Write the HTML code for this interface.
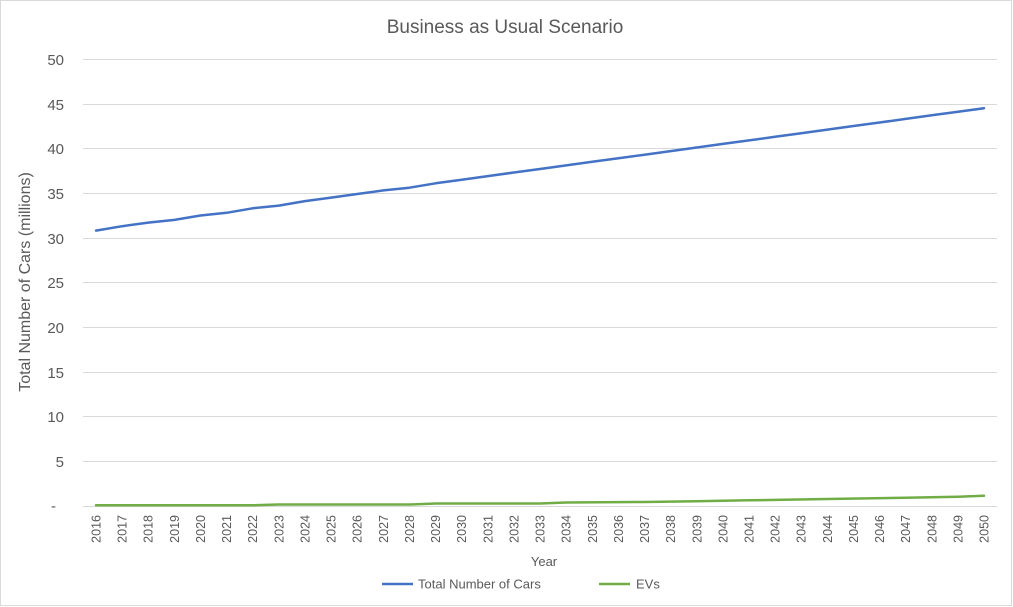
<!DOCTYPE html>
<html><head><meta charset="utf-8"><style>html,body{margin:0;padding:0;background:#fff}svg{display:block}</style></head>
<body>
<svg width="1013" height="607" xmlns="http://www.w3.org/2000/svg" font-family="Liberation Sans, sans-serif">
<rect x="0.5" y="0.5" width="1011" height="605" fill="#fff" stroke="#d9d9d9"/>
<text x="505" y="33" text-anchor="middle" font-size="19" fill="#595959">Business as Usual Scenario</text>
<g stroke="#d9d9d9" stroke-width="1">
<line x1="83" x2="997" y1="59.5" y2="59.5"/><line x1="83" x2="997" y1="104.5" y2="104.5"/>
<line x1="83" x2="997" y1="148.5" y2="148.5"/><line x1="83" x2="997" y1="193.5" y2="193.5"/>
<line x1="83" x2="997" y1="238.5" y2="238.5"/><line x1="83" x2="997" y1="282.5" y2="282.5"/>
<line x1="83" x2="997" y1="327.5" y2="327.5"/><line x1="83" x2="997" y1="372.5" y2="372.5"/>
<line x1="83" x2="997" y1="416.5" y2="416.5"/><line x1="83" x2="997" y1="461.5" y2="461.5"/>
<line x1="83" x2="997" y1="506.5" y2="506.5"/>
</g>
<g font-size="15" fill="#595959" text-anchor="end">
<text x="64" y="65">50</text><text x="64" y="110">45</text><text x="64" y="154">40</text>
<text x="64" y="199">35</text><text x="64" y="244">30</text><text x="64" y="288">25</text>
<text x="64" y="333">20</text><text x="64" y="378">15</text><text x="64" y="422">10</text>
<text x="64" y="467">5</text><text x="56" y="511">-</text>
</g>
<text transform="translate(30,282) rotate(-90)" text-anchor="middle" font-size="16" fill="#595959">Total Number of Cars (millions)</text>
<g font-size="12.5" fill="#595959" text-anchor="end">
<text transform="translate(100.5,515) rotate(-90)">2016</text>
<text transform="translate(126.6,515) rotate(-90)">2017</text>
<text transform="translate(152.7,515) rotate(-90)">2018</text>
<text transform="translate(178.9,515) rotate(-90)">2019</text>
<text transform="translate(205,515) rotate(-90)">2020</text>
<text transform="translate(231.1,515) rotate(-90)">2021</text>
<text transform="translate(257.2,515) rotate(-90)">2022</text>
<text transform="translate(283.3,515) rotate(-90)">2023</text>
<text transform="translate(309.5,515) rotate(-90)">2024</text>
<text transform="translate(335.6,515) rotate(-90)">2025</text>
<text transform="translate(361.7,515) rotate(-90)">2026</text>
<text transform="translate(387.8,515) rotate(-90)">2027</text>
<text transform="translate(413.9,515) rotate(-90)">2028</text>
<text transform="translate(440.1,515) rotate(-90)">2029</text>
<text transform="translate(466.2,515) rotate(-90)">2030</text>
<text transform="translate(492.3,515) rotate(-90)">2031</text>
<text transform="translate(518.4,515) rotate(-90)">2032</text>
<text transform="translate(544.5,515) rotate(-90)">2033</text>
<text transform="translate(570.7,515) rotate(-90)">2034</text>
<text transform="translate(596.8,515) rotate(-90)">2035</text>
<text transform="translate(622.9,515) rotate(-90)">2036</text>
<text transform="translate(649,515) rotate(-90)">2037</text>
<text transform="translate(675.1,515) rotate(-90)">2038</text>
<text transform="translate(701.3,515) rotate(-90)">2039</text>
<text transform="translate(727.4,515) rotate(-90)">2040</text>
<text transform="translate(753.5,515) rotate(-90)">2041</text>
<text transform="translate(779.6,515) rotate(-90)">2042</text>
<text transform="translate(805.7,515) rotate(-90)">2043</text>
<text transform="translate(831.9,515) rotate(-90)">2044</text>
<text transform="translate(858,515) rotate(-90)">2045</text>
<text transform="translate(884.1,515) rotate(-90)">2046</text>
<text transform="translate(910.2,515) rotate(-90)">2047</text>
<text transform="translate(936.3,515) rotate(-90)">2048</text>
<text transform="translate(962.5,515) rotate(-90)">2049</text>
<text transform="translate(988.5,515) rotate(-90)">2050</text>
</g>
<text x="544" y="566" text-anchor="middle" font-size="13" fill="#595959">Year</text>
<polyline fill="none" stroke="#4472c4" stroke-width="2.5" stroke-linejoin="round" stroke-linecap="round" points="96,230.6 122.1,226.2 148.2,222.6 174.4,219.9 200.5,215.5 226.6,212.8 252.7,208.3 278.8,205.6 305,201.1 331.1,197.6 357.2,194 383.3,190.4 409.4,187.7 435.6,183.3 461.7,179.7 487.8,176.1 513.9,172.5 540,169 566.2,165.4 592.3,161.8 618.4,158.2 644.5,154.7 670.6,151.1 696.8,147.5 722.9,143.9 749,140.4 775.1,136.8 801.2,133.2 827.4,129.6 853.5,126 879.6,122.5 905.7,118.9 931.8,115.3 958,111.7 984,108.2"/>
<polyline fill="none" stroke="#70ad47" stroke-width="2.5" stroke-linejoin="round" stroke-linecap="round" points="96,505.3 252,505.3 278,504.5 410,504.5 436,503.5 540,503.5 566,502.5 644,502 696,501.3 749,500.3 827,499 905,497.8 958,496.8 984,495.8"/>
<line x1="382" x2="413" y1="584" y2="584" stroke="#4472c4" stroke-width="2.5"/>
<text x="418" y="588.5" font-size="13" fill="#595959">Total Number of Cars</text>
<line x1="599" x2="630" y1="584" y2="584" stroke="#70ad47" stroke-width="2.5"/>
<text x="636" y="588.5" font-size="13" fill="#595959">EVs</text>
</svg>
</body></html>
